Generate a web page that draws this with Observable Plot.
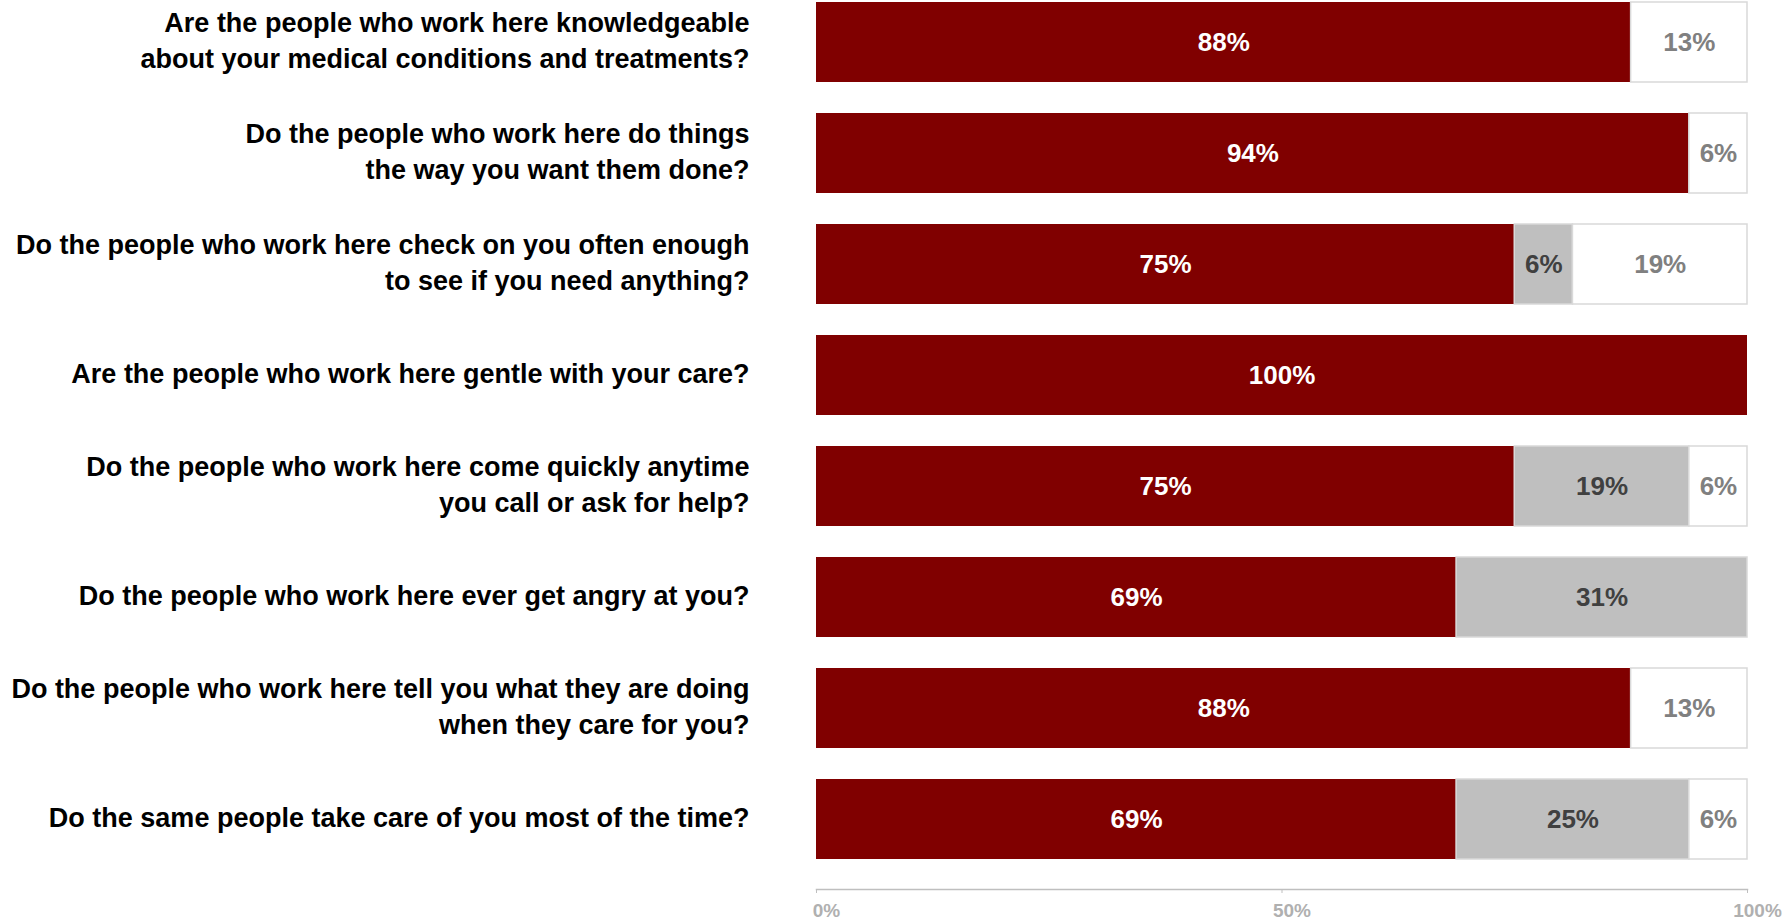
<!DOCTYPE html>
<html>
<head>
<meta charset="utf-8">
<script src="https://cdn.jsdelivr.net/npm/d3@7"></script>
<script src="https://cdn.jsdelivr.net/npm/@observablehq/plot@0.6"></script>
<style>
  html, body { margin: 0; padding: 0; background: #fff; }
  #chart svg { display: block; }
</style>
</head>
<body>
<div id="chart"></div>
<script>
const questions = [
  "Are the people who work here knowledgeable\nabout your medical conditions and treatments?",
  "Do the people who work here do things\nthe way you want them done?",
  "Do the people who work here check on you often enough\nto see if you need anything?",
  "Are the people who work here gentle with your care?",
  "Do the people who work here come quickly anytime\nyou call or ask for help?",
  "Do the people who work here ever get angry at you?",
  "Do the people who work here tell you what they are doing\nwhen they care for you?",
  "Do the same people take care of you most of the time?"
];
const categories = ["Positive", "Sometimes", "Negative"];
const positive  = [87.5, 93.75, 75, 100, 75, 68.75, 87.5, 68.75];
const sometimes = [0, 0, 6.25, 0, 18.75, 31.25, 0, 25];
const negative  = [12.5, 6.25, 18.75, 0, 6.25, 0, 12.5, 6.25];
const xTicks = [0, 50, 100];
const xTickLabels = ["0%", "50%", "100%"];

const series = [positive, sometimes, negative];
const data = [];
questions.forEach((q, i) => {
  categories.forEach((c, j) => {
    const v = series[j][i];
    if (v > 0) data.push({question: q, category: c, value: v});
  });
});

const font = '"Liberation Sans", Arial, sans-serif';
const fillColors = ["#800000", "#bfbfbf", "#ffffff"];
const textColors = {Positive: "#ffffff", Sometimes: "#404040", Negative: "#808080"};

const stackOpts = {x: "value", y: "question", z: "category", order: categories};

const valueText = (cat) => Plot.text(data, Plot.filter(d => d.category === cat, Plot.stackX({
  ...stackOpts,
  text: d => Math.round(d.value) + "%",
  fill: textColors[cat],
  fontSize: 26,
  fontWeight: "bold"
})));

const chart = Plot.plot({
  width: 1791,
  height: 920,
  marginTop: 2,
  marginBottom: 31,
  marginLeft: 816,
  marginRight: 44,
  style: {fontFamily: font, background: "#fff"},
  x: {domain: [0, 100], axis: null},
  y: {domain: questions, axis: null, paddingInner: 0.28, paddingOuter: 0, insetBottom: 30},
  color: {domain: categories, range: fillColors},
  marks: [
    Plot.barX(data, Plot.stackX({
      ...stackOpts,
      fill: "category",
      stroke: d => d.category === "Positive" ? "none" : "#d9d9d9",
      strokeWidth: 1.5
    })),
    valueText("Positive"),
    valueText("Sometimes"),
    valueText("Negative"),
    Plot.text(questions, {
      x: 0,
      y: d => d,
      text: d => d,
      dx: -67,
      dy: -4,
      textAnchor: "end",
      lineHeight: 1.31,
      fontSize: 27,
      fontWeight: "bold",
      fill: "#000"
    }),
    Plot.frame({anchor: "bottom", stroke: "#bfbfbf", strokeWidth: 1.5}),
    Plot.axisX({
      anchor: "bottom",
      ticks: xTicks,
      tickFormat: () => "",
      tickSize: 4,
      stroke: "#bfbfbf",
      label: null
    }),
    Plot.axisX({
      anchor: "bottom",
      ticks: xTicks,
      tickFormat: d => xTickLabels[xTicks.indexOf(d)],
      tickSize: 0,
      tickPadding: 14,
      dx: 10,
      fill: "#b0b0b0",
      fontSize: 19,
      fontWeight: "bold",
      label: null
    })
  ]
});
document.getElementById("chart").appendChild(chart);
</script>
</body>
</html>
